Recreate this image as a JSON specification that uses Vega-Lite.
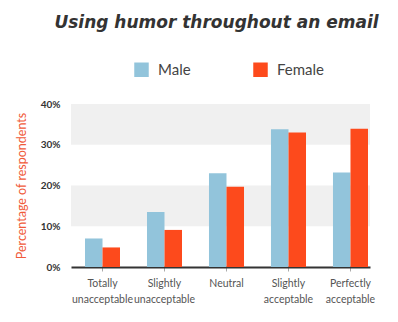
{
  "$schema": "https://vega.github.io/schema/vega-lite/v6.json",
  "width": 299,
  "height": 163,
  "autosize": "none",
  "padding": {"left": 71, "top": 104, "right": 28, "bottom": 55},
  "background": "white",
  "title": {
    "text": "Using humor throughout an email",
    "font": "DejaVu Sans",
    "fontSize": 17,
    "fontWeight": "bold",
    "fontStyle": "italic",
    "color": "#333333",
    "anchor": "middle",
    "dx": -4,
    "offset": 30
  },
  "config": {
    "view": {"stroke": null},
    "font": "Lato"
  },
  "layer": [
    {
      "data": {"values": [{"lo": 0.1, "hi": 0.2}, {"lo": 0.3, "hi": 0.4}]},
      "mark": {"type": "rect", "color": "#f0f0f0"},
      "encoding": {
        "y": {"field": "lo", "type": "quantitative", "scale": {"domain": [0, 0.4]}, "axis": {"title": "Percentage of respondents", "format": ".0%", "values": [0, 0.1, 0.2, 0.3, 0.4], "labelOverlap": false, "grid": false, "ticks": false, "domain": false, "labelFont": "Lato", "labelFontWeight": "bold", "labelFontSize": 10, "labelColor": "#333333", "labelPadding": 11, "titleFont": "Lato", "titleFontWeight": "normal", "titleFontSize": 12.5, "titleColor": "#f05a3a", "titlePadding": 12}},
        "y2": {"field": "hi"}
      }
    },
    {
      "data": {"values": [
        {"category": "Totally unacceptable", "gender": "Male", "value": 0.070},
        {"category": "Totally unacceptable", "gender": "Female", "value": 0.048},
        {"category": "Slightly unacceptable", "gender": "Male", "value": 0.135},
        {"category": "Slightly unacceptable", "gender": "Female", "value": 0.091},
        {"category": "Neutral", "gender": "Male", "value": 0.230},
        {"category": "Neutral", "gender": "Female", "value": 0.197},
        {"category": "Slightly acceptable", "gender": "Male", "value": 0.338},
        {"category": "Slightly acceptable", "gender": "Female", "value": 0.330},
        {"category": "Perfectly acceptable", "gender": "Male", "value": 0.232},
        {"category": "Perfectly acceptable", "gender": "Female", "value": 0.339}
      ]},
      "mark": {"type": "bar"},
      "encoding": {
        "x": {
          "field": "category", "type": "nominal", "sort": null,
          "scale": {"paddingInner": 0.435, "paddingOuter": 0.129, "align": 0.875},
          "axis": {"title": null, "labelAngle": 0, "labelExpr": "split(datum.label, ' ')", "labelOverlap": false, "labelFont": "Lato", "labelFontSize": 10.5, "labelColor": "#555555", "labelLineHeight": 16, "labelPadding": 7, "domainColor": "#333333", "domainWidth": 2, "tickColor": "#aaaaaa", "tickSize": 4, "tickWidth": 1}
        },
        "xOffset": {"field": "gender", "type": "nominal", "sort": ["Male", "Female"]},
        "y": {"field": "value", "type": "quantitative", "axis": {"title": "Percentage of respondents", "format": ".0%", "values": [0, 0.1, 0.2, 0.3, 0.4], "labelOverlap": false, "grid": false, "ticks": false, "domain": false, "labelFont": "Lato", "labelFontWeight": "bold", "labelFontSize": 10, "labelColor": "#333333", "labelPadding": 11, "titleFont": "Lato", "titleFontWeight": "normal", "titleFontSize": 12.5, "titleColor": "#f05a3a", "titlePadding": 12}},
        "color": {
          "field": "gender", "type": "nominal", "sort": ["Male", "Female"],
          "scale": {"domain": ["Male", "Female"], "range": ["#92c4db", "#fd4a1c"]},
          "legend": {"title": null, "orient": "none", "direction": "horizontal", "legendX": 63, "legendY": -42, "symbolType": "square", "symbolSize": 210, "symbolStrokeWidth": 0, "symbolOpacity": 1, "labelFont": "Lato", "labelFontSize": 15, "labelColor": "#444444", "labelOffset": 9, "columnPadding": 62}
        }
      }
    }
  ]
}
